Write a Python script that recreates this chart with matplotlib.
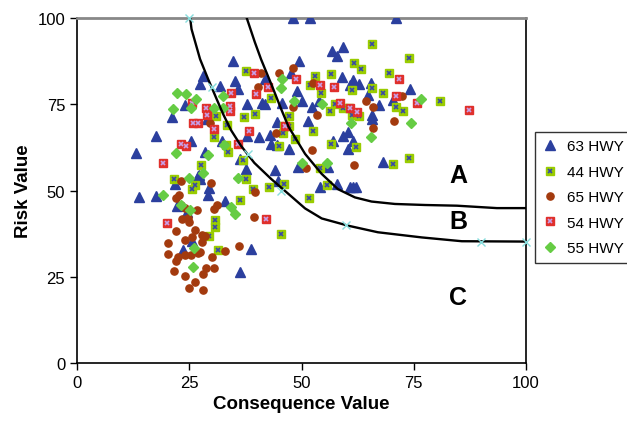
import numpy as np
import matplotlib.pyplot as plt

plt.rcParams['font.family'] = ['Liberation Sans', 'DejaVu Sans']

# 63 HWY (triangulos)
x63 = [48.2, 51.9, 71, 34.7, 49.4, 47.6, 27.4, 28, 35.2, 31.8, 35.9, 48.9, 24, 21.1, 37.8, 41.1,
       41.9, 45.6, 52.4, 53.8, 29, 37.8, 40.6, 43, 44.5, 51.4, 17.7, 13.1, 25.4, 32.2, 36.3, 37.6,
       27.2, 44.1, 44.8, 47.1, 49.3, 43.1, 44.5, 56.7, 59.3, 58, 59.1, 61.5, 62.9, 60.8, 65.4, 64.7,
       74.2, 70.4, 67.3, 65.8, 65.8, 60.4, 59.2, 61.5, 60.4, 57.1, 68.2, 56, 58, 61.5, 54.1, 60.9,
       62.2, 41.9, 50, 28.5, 27, 27.5, 21.8, 29.5, 29.1, 13.8, 17.7, 33, 22.2, 24.4, 25.7, 23.5,
       38.8, 36.3]
y63 = [100, 100, 100, 87.6, 87.6, 84.2, 80.9, 83.3, 81.6, 80.2, 79.4, 78.9, 74.8, 71.2, 75.1, 75.5,
       75.1, 75.3, 74.1, 76, 70.7, 65.9, 65.4, 66.1, 70, 70.2, 65.9, 60.8, 64.4, 64.4, 59, 56.2,
       54.6, 56, 52.8, 62, 56.7, 63.5, 63.3, 90.5, 91.5, 88.9, 82.8, 81.9, 80.9, 80.6, 81.2, 77.7,
       79.4, 76.3, 74.8, 71.9, 70.7, 67, 65.7, 64.4, 62, 64.4, 58.4, 56.7, 51.9, 51.1, 51.1, 50.9,
       51.1, 82.3, 76, 61.3, 54.3, 53.3, 51.9, 50.7, 48.7, 48, 48.5, 47, 45.4, 43.9, 35.4, 32.8,
       33, 26.3]

# 44 HWY (cuadrado verde)
x44 = [37.6, 53, 43.1, 31, 37.2, 39.6, 33.3, 30.4, 45.8, 47.2, 46.1, 47.3, 48.6, 52.5, 33.7, 36.9,
       37.6, 27.6, 21.7, 26.3, 46.2, 45, 54.1, 65.8, 73.9, 61.7, 63.3, 69.5, 56.6, 51.9, 54.3, 61.3,
       65.8, 68.2, 71, 72.7, 80.8, 60.6, 56.3, 59.2, 61.2, 62.7, 56.5, 62.1, 70.4, 73.9, 55.6, 57.5,
       33.1, 25.5, 36.3, 39.1, 42.8, 51.7, 30.7, 30.7, 45.4, 29.4, 31.3]
y44 = [84.7, 83.3, 76.7, 71.5, 71.2, 72.2, 69, 65.6, 66.7, 71.5, 68.8, 68.8, 64.9, 67.2, 61.3, 58.8,
       53.3, 57.4, 53.3, 51.7, 51.9, 63, 56.4, 92.5, 88.4, 87.1, 85.2, 84.1, 83.8, 80.6, 78.3, 79.1,
       79.7, 78.3, 74.1, 73.1, 75.8, 73.9, 73, 73.9, 71.9, 71.5, 63.5, 62.7, 57.7, 59.4, 51.7, 75,
       63.3, 50.4, 47.2, 50.4, 50.9, 47.7, 41.5, 39.3, 37.4, 36.9, 32.8]

# 65 HWY (circulos)
x65 = [41, 45, 48.2, 52.5, 40.2, 48, 29.6, 44.3, 53.5, 23.1, 29.8, 51, 52.3, 72.3, 64.4, 66, 70.6,
       66, 61.7, 22, 22.8, 24.1, 26.8, 31.1, 30.4, 39.6, 23.1, 24.8, 25, 23.3, 39.4, 22, 26.3, 24.1,
       27.8, 28.5, 25.7, 27.9, 20.3, 33, 27.5, 26.9, 25.4, 20.3, 22.6, 22, 24.1, 30, 36.1, 21.7,
       28.7, 30.6, 24.1, 28.1, 26.3, 24.9, 28.1]
y65 = [84.2, 84.2, 85.5, 81.2, 80, 74.1, 69.7, 66.7, 71.9, 52.8, 52.1, 56.4, 61.6, 77.3, 75.8, 74.1,
       70.2, 68.1, 57.4, 47.8, 48.8, 44.8, 44.4, 45.8, 44.6, 49.5, 45.7, 41.9, 41, 41.7, 42.2, 38.4,
       38.6, 35.7, 37.1, 36.9, 36.4, 35.2, 34.8, 32.4, 32.3, 31.8, 31.4, 31.6, 30.8, 29.6, 31.3, 30.6,
       34, 26.8, 27.4, 27.6, 25.3, 25.7, 23.4, 21.6, 21.2]

# 54 HWY (cuadrado rojo)
x54 = [39.4, 48.8, 34.2, 42.6, 39.9, 25.7, 28.7, 28.9, 34.1, 34.1, 25.9, 27, 30.4, 38.2, 23.2, 24.3,
       19.2, 35.9, 46.4, 71.7, 54.1, 57.2, 71, 75.8, 87.2, 58.6, 62.4, 60.8, 42.1, 20]
y54 = [84.1, 82.3, 78.3, 79.9, 78, 75.5, 73.9, 71.9, 74.4, 73.1, 69.5, 69.5, 67.8, 67.2, 63.5, 62.8,
       58, 63.5, 68.8, 82.3, 80.6, 79.9, 77.3, 75.5, 73.3, 75.5, 72.9, 73.8, 41.7, 40.5]

# 55 HWY (rombos)
x55 = [45.7, 45.4, 22.3, 24.3, 26.4, 21.3, 25.3, 30.6, 32.6, 32.6, 22, 29.2, 32.8, 35.8, 28, 25, 50,
       54.6, 48.4, 76.5, 74.4, 61, 65.5, 55.6, 19.2, 23.2, 25.2, 34.2, 35.2, 26.1, 25.9]
y55 = [82.3, 79.7, 78.4, 78.1, 76.5, 73.6, 73.8, 74, 73.9, 77.5, 61, 60.3, 63.2, 53.5, 55, 53.5, 58,
       75.1, 76, 76.5, 69.6, 69.7, 65.4, 58, 48.7, 45.8, 44.4, 45.3, 43.2, 33.2, 27.7]

# Curvas limite
cbc_x = [25.2, 25.5, 27.4, 29.2, 31.1, 32.6, 34.3, 36.5, 39.5, 43.2, 47.1, 50.8, 54.5, 60.4, 67, 76.8, 85.7, 100]
cbc_y = [100, 96.8, 88.1, 82.3, 76.5, 72, 67.5, 63, 58, 53.4, 49, 44.8, 41.9, 39.8, 37.9, 36.4, 35.3, 35.2]
cab_x = [37.8, 39.6, 41, 43.4, 45.5, 47.1, 50.8, 54.5, 58.1, 61.9, 65.6, 70.8, 77.5, 84.6, 93.5, 100]
cab_y = [100, 93, 88, 80.4, 73.5, 68.5, 60.6, 54.8, 50.4, 48, 46.8, 46.1, 45.8, 45.6, 44.9, 44.9]
mk_x = [25, 30, 38, 45.5, 60, 90, 100]
mk_y = [100, 80, 60.5, 50, 40, 35, 35]

fig = plt.figure(figsize=(6.27, 4.27), dpi=100)
ax = fig.add_axes([0.1228, 0.1475, 0.7162, 0.808])

h63, = ax.plot(x63, y63, '^', color='#2B3F9E', ms=6.5, mec='#2B3F9E', ls='none', zorder=3)
s44, = ax.plot(x44, y44, 's', color='#99CC00', ms=6, mec='#99CC00', ls='none', zorder=3)
x44m, = ax.plot(x44, y44, 'x', color='#3848A8', ms=3.5, mew=1.2, ls='none', zorder=3)
h65, = ax.plot(x65, y65, 'o', color='#A33A0E', ms=5.2, mec='#A33A0E', ls='none', zorder=3)
s54, = ax.plot(x54, y54, 's', color='#E0302C', ms=6, mec='#E0302C', ls='none', zorder=3)
x54m, = ax.plot(x54, y54, 'x', color='#C8A0E8', ms=3.5, mew=1.2, ls='none', zorder=3)
h55, = ax.plot(x55, y55, 'D', color='#66CC44', ms=4.8, mec='#66CC44', ls='none', zorder=3)

ax.plot(cbc_x, cbc_y, color='black', lw=1.7, zorder=4, solid_joinstyle='round')
ax.plot(cab_x, cab_y, color='black', lw=1.7, zorder=4, solid_joinstyle='round')
ax.plot(mk_x, mk_y, 'x', color='#88DDDD', ms=6, mew=1, ls='none', zorder=5, clip_on=False)

ax.text(84.9, 54.5, 'A', fontsize=18, fontweight='bold', ha='center', va='center')
ax.text(84.9, 41.2, 'B', fontsize=18, fontweight='bold', ha='center', va='center')
ax.text(84.9, 19.1, 'C', fontsize=18, fontweight='bold', ha='center', va='center')

ax.set_xlim(0, 100)
ax.set_ylim(0, 100)
ax.set_xticks([0, 25, 50, 75, 100])
ax.set_yticks([0, 25, 50, 75, 100])
ax.tick_params(labelsize=12, length=5, width=1, direction='out')
ax.set_xlabel('Consequence Value', fontsize=13.5, fontweight='bold')
ax.set_ylabel('Risk Value', fontsize=13.5, fontweight='bold')
ax.spines['top'].set_color('#888888')
ax.spines['top'].set_linewidth(2)
for s in ['left', 'bottom', 'right']:
    ax.spines[s].set_color('black')
    ax.spines[s].set_linewidth(1.2)

leg = fig.legend([h63, (s44, x44m), h65, (s54, x54m), h55],
                 ['63 HWY', '44 HWY', '65 HWY', '54 HWY', '55 HWY'],
                 loc='upper left', bbox_to_anchor=(0.853, 0.689), fontsize=11,
                 frameon=True, fancybox=False, edgecolor='black', labelspacing=0.75,
                 handlelength=1.0, handletextpad=0.6, borderpad=0.5, borderaxespad=0)
leg.get_frame().set_linewidth(1)

fig.savefig('out.png', dpi=100)
